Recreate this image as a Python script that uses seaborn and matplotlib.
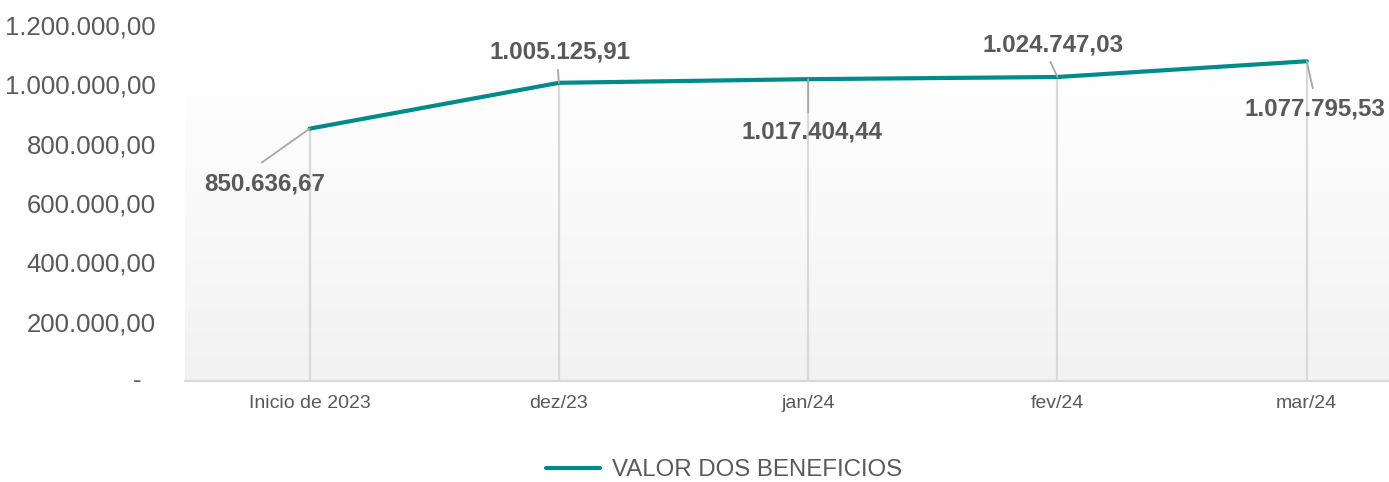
import numpy as np
import pandas as pd
import matplotlib
matplotlib.use("Agg")
import matplotlib.pyplot as plt
from matplotlib.lines import Line2D
from matplotlib.colors import LinearSegmentedColormap
import seaborn as sns

# ---- data ----
categories = ["Inicio de 2023", "dez/23", "jan/24", "fev/24", "mar/24"]
valores = [850636.67, 1005125.91, 1017404.44, 1024747.03, 1077795.53]
serie_nome = "VALOR DOS BENEFICIOS"
y_ticks = [0, 200000, 400000, 600000, 800000, 1000000, 1200000]

def fmt_br(v, dec=2):
    s = f"{v:,.{dec}f}"
    return s.replace(",", "X").replace(".", ",").replace("X", ".")

sns.set_theme(style="white")
plt.rcParams['font.family'] = ['Liberation Sans', 'DejaVu Sans']

TEAL = "#008B8B"
GRAY_TXT = "#595959"

fig = plt.figure(figsize=(13.89, 4.82), dpi=100)
ax = fig.add_axes([185/1389, 1-381/482, 1-185/1389, (381-25)/482])

x = np.arange(len(categories))
df = pd.DataFrame({"x": x, "valor": valores})

ax.set_xlim(-0.5, 4.33)
ax.set_ylim(0, 1200000)

# gradient background
cmap = LinearSegmentedColormap.from_list("bg", ["#f2f2f2", "#ffffff"])
grad = np.linspace(0, 1, 256).reshape(-1, 1)
ax.imshow(grad, cmap=cmap, origin="lower", aspect="auto",
          extent=(-0.5, 4.33, 0, 1041000), zorder=0)

# drop lines
ax.vlines(x, 0, valores, colors="#d9d9d9", linewidth=1.6, zorder=1)

sns.lineplot(data=df, x="x", y="valor", color=TEAL, linewidth=3.0,
             ax=ax, zorder=3, legend=False)

# leader lines and data labels (offsets in pixels)
leaders = [(-48, -34), (-1, 13), (0, -33), (-7, 15), (6, -27)]
label_offsets = [(-45, -55), (1, 31), (4, -53), (-4, 32), (8, -48)]
for xi, v, ld, lo in zip(x, valores, leaders, label_offsets):
    ax.annotate("", xy=(xi, v), xytext=ld, textcoords="offset pixels",
                arrowprops=dict(arrowstyle="-", color="#a6a6a6", lw=1.3,
                                shrinkA=0, shrinkB=0), zorder=4)
    ax.annotate(fmt_br(v), xy=(xi, v), xytext=lo, textcoords="offset pixels",
                ha="center", va="center", fontsize=17.4, fontweight="bold",
                color=GRAY_TXT, zorder=5)

# axes styling
for s in ["left", "top", "right"]:
    ax.spines[s].set_visible(False)
ax.spines["bottom"].set_color("#d9d9d9")
ax.spines["bottom"].set_linewidth(1.6)
ax.spines["bottom"].set_zorder(2)

ax.set_xticks(x)
ax.set_xticklabels(categories, fontsize=14, color=GRAY_TXT)
ax.set_yticks(y_ticks)
ax.set_yticklabels(["" if t == 0 else fmt_br(t) for t in y_ticks],
                   fontsize=18.5, color=GRAY_TXT)
ax.tick_params(axis="x", length=0, pad=10)
ax.tick_params(axis="y", length=0, pad=21)
ax.annotate("-", xy=(0, 0), xycoords=("axes fraction", "data"),
            xytext=(-44, 0), textcoords="offset pixels",
            ha="right", va="center", fontsize=18.5, color=GRAY_TXT,
            annotation_clip=False)
ax.set_xlabel("")
ax.set_ylabel("")
ax.grid(False)

handle = Line2D([0], [0], color=TEAL, linewidth=3.0, solid_capstyle="round")
fig.legend([handle], [serie_nome], loc="center",
           bbox_to_anchor=(724/1389, 1-470/482), frameon=False,
           fontsize=17.3, handlelength=2.25, handletextpad=0.5,
           labelcolor=GRAY_TXT)

fig.savefig("out.png", dpi=100)
